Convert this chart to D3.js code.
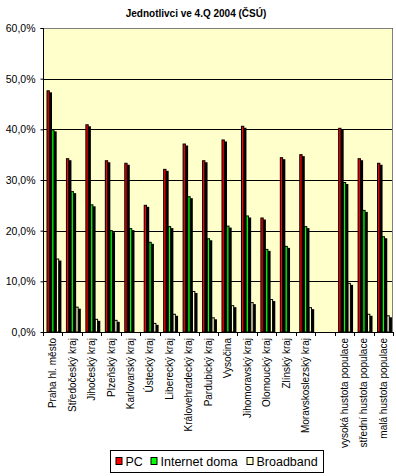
<!DOCTYPE html>
<html><head><meta charset="utf-8">
<script src="https://cdn.jsdelivr.net/npm/d3@7/dist/d3.min.js"></script>
<style>
body{margin:0;background:#fff;}
svg{display:block;font-family:"Liberation Sans",Arial,sans-serif;}
</style></head>
<body><svg id="c" width="396" height="476"></svg>
<script>
const title = "Jednotlivci ve 4.Q 2004 (ČSÚ)";
const categories = ["Praha hl. město","Středočeský kraj","Jihočeský kraj","Plzeňský kraj","Karlovarský kraj","Ústecký kraj","Liberecký kraj","Královehradecký kraj","Pardubický kraj","Vysočina","Jihomoravský kraj","Olomoucký kraj","Zlínský kraj","Moravskoslezský kraj","","vysoká hustota populace","střední hustota populace","malá hustota populace"];
const seriesNames = ["PC","Internet doma","Broadband"];
const pc        = [47.7,34.3,41.0,33.9,33.4,25.1,32.2,37.2,33.9,38.0,40.7,22.6,34.5,35.1,null,40.3,34.3,33.4];
const internet  = [40.0,27.8,25.2,20.1,20.5,17.8,20.9,26.8,18.5,21.0,23.0,16.4,17.0,20.9,null,29.6,24.1,18.9];
const broadband = [14.5,5.0,2.6,2.4,0.0,1.8,3.6,8.1,2.9,5.3,5.9,6.5,0.0,4.9,null,9.7,3.6,3.3];
const yTicks = [0,10,20,30,40,50,60];
const colors = ["#FF0000","#00FF00","#FFFFCC"];

const svg = d3.select("#c");
const L=43, R=393, T=28, B=332;

const x0 = d3.scaleBand().domain(d3.range(categories.length)).range([L,R]).padding(0);
const x1 = d3.scaleBand().domain(d3.range(3)).range([3.5, 17.6]).padding(0);
const y = d3.scaleLinear().domain([0,60]).range([B,T]);

// plot background
svg.append("rect").attr("x",L).attr("y",T).attr("width",R-L).attr("height",B-T).attr("fill","#FFFFCC");

// gridlines
svg.append("g").selectAll("line").data(yTicks.filter(d=>d>0)).join("line")
  .attr("x1",L).attr("x2",R).attr("y1",d=>Math.round(y(d))+0.5).attr("y2",d=>Math.round(y(d))+0.5)
  .attr("stroke","#000").attr("stroke-width",1);

// border top/right gray
svg.append("path").attr("d",`M${L},${T+0.5}H${R-0.5}V${B}`).attr("fill","none").attr("stroke","#808080");

// bars
const series = [pc, internet, broadband];
const bw = 3.3, sdx = 2.2, sdy = 2;
const g = svg.append("g");
categories.forEach((c,i)=>{
  series.forEach((s,k)=>{
    const v = s[i];
    if(v===null) return;
    const bx = x0(i)+x1(k);
    const ty = y(v);
    if (v>0) {
      g.append("rect").attr("x",bx+sdx).attr("y",ty+sdy).attr("width",bw).attr("height",Math.max(0,B-ty-sdy)).attr("fill","#000");
      g.append("rect").attr("x",bx+0.5).attr("y",ty+0.5).attr("width",bw-1).attr("height",Math.max(0,B-ty-0.5))
        .attr("fill",colors[k]).attr("stroke","#000").attr("stroke-width",1);
    }
  });
});

// y axis
const yAxis = d3.axisLeft(y).tickValues(yTicks).tickSize(3).tickPadding(5)
  .tickFormat(d=>d.toFixed(1).replace(".",",")+"%");
const ya = svg.append("g").attr("transform",`translate(${L+0.5},0)`).call(yAxis);
ya.select(".domain").attr("stroke","#000").attr("d",`M-3,${T+0.5}H0V${B}`);
ya.selectAll(".tick line").attr("stroke","#000");
ya.selectAll(".tick text").attr("font-size","10.5px").attr("fill","#000")
  .attr("font-family","'Liberation Sans',Arial,sans-serif");

// x axis line + ticks
svg.append("line").attr("x1",L).attr("x2",R).attr("y1",B+0.5).attr("y2",B+0.5).attr("stroke","#000");
const bounds = d3.range(categories.length+1).map(i=> i<categories.length ? x0(i) : R);
svg.append("g").selectAll("line").data(bounds).join("line")
  .attr("x1",d=>Math.round(d)+0.5).attr("x2",d=>Math.round(d)+0.5).attr("y1",B).attr("y2",B+4).attr("stroke","#000");

// x labels
svg.append("g").selectAll("text").data(categories).join("text")
  .attr("transform",(d,i)=>`translate(${x0(i)+x0.bandwidth()/2+3.5},${B+6}) rotate(-90)`)
  .attr("text-anchor","end").attr("font-size","10px").attr("fill","#000").text(d=>d);

// title
svg.append("text").attr("x",196).attr("y",17).attr("text-anchor","middle")
  .attr("font-size","10px").attr("font-weight","bold").text(title);

// legend
const lg = svg.append("g");
lg.append("rect").attr("x",110.5).attr("y",450.5).attr("width",213).attr("height",22).attr("fill","#fff").attr("stroke","#000");
const legX = [115.5, 150.5, 246.5];
seriesNames.forEach((n,k)=>{
  lg.append("rect").attr("x",legX[k]+0.5).attr("y",457.5).attr("width",6).attr("height",7).attr("fill",colors[k]).attr("stroke","#000");
  lg.append("text").attr("x",legX[k]+10).attr("y",466).attr("font-size","12.5px").text(n);
});
</script></body></html>
